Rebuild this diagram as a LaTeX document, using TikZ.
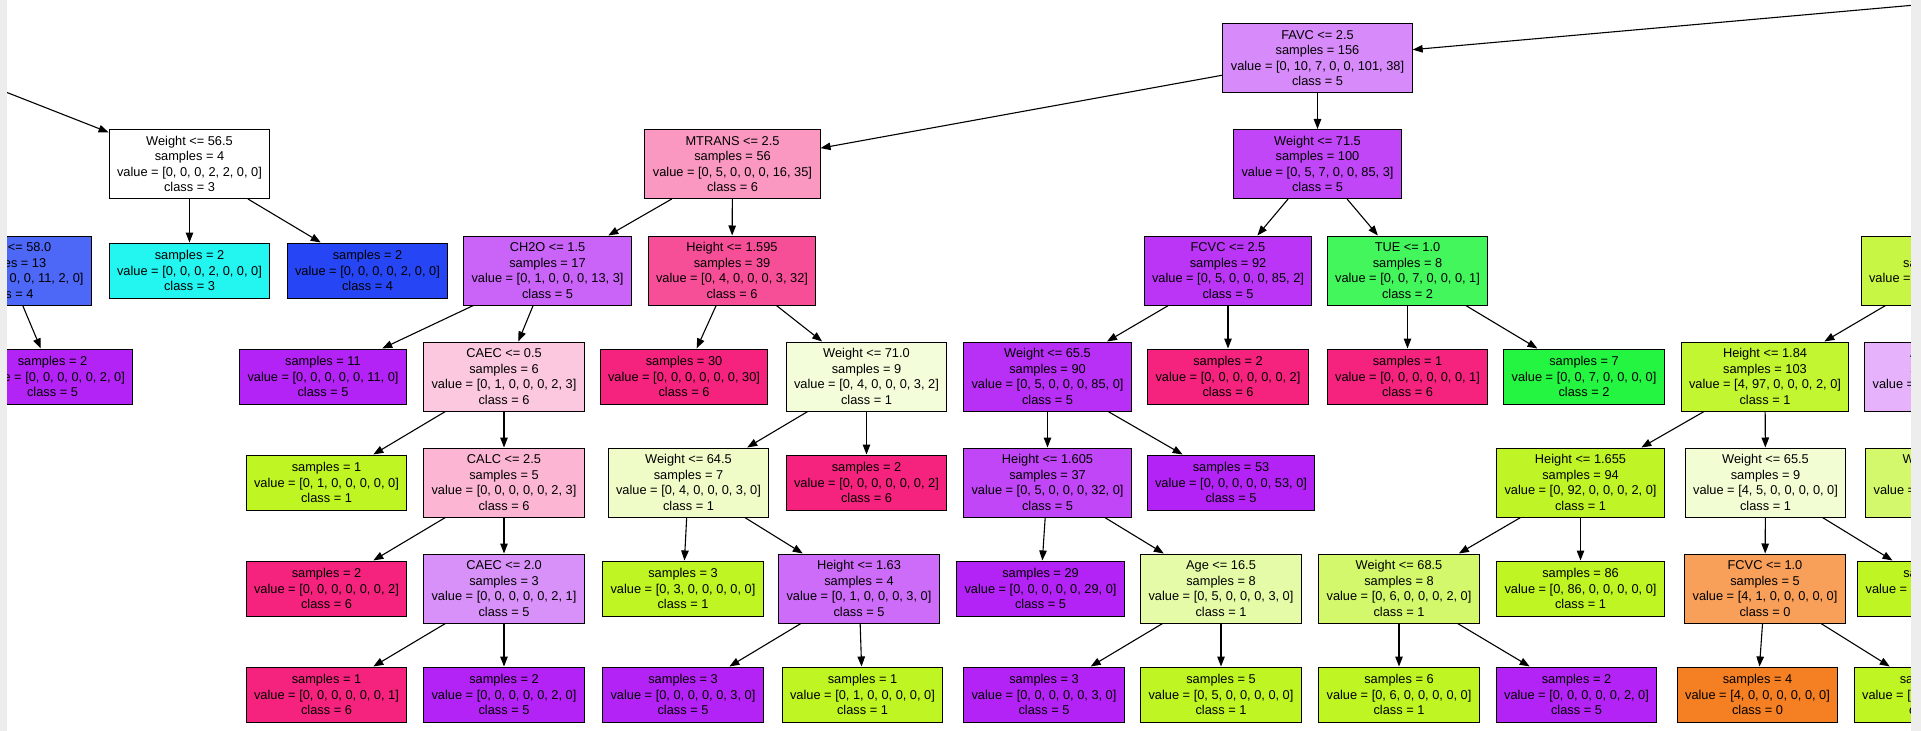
\documentclass[tikz,border=0pt]{standalone}
\usepackage{fontspec}
\setmainfont{Liberation Sans}
\usetikzlibrary{arrows.meta}
\definecolor{cls0}{HTML}{F57F23}
\definecolor{cls1}{HTML}{BEF523}
\definecolor{cls2}{HTML}{23F541}
\definecolor{cls3}{HTML}{23F5F0}
\definecolor{cls4}{HTML}{2646F5}
\definecolor{cls5}{HTML}{B423F5}
\definecolor{cls6}{HTML}{F5237D}
\begin{document}
\begin{tikzpicture}[x=1bp,y=-1bp,
  font=\fontsize{12.85}{15.65}\selectfont,
  split/.style={draw=black,line width=1bp,align=center,inner xsep=8bp,inner ysep=2bp,minimum height=69bp},
  leaf/.style={split,minimum height=55bp},
  branch/.style={line width=1.1bp,-{Triangle[length=10bp,width=7.5bp]}}]
  \useasboundingbox (0,0) rectangle (1921,731);
  \begin{scope}
  \clip (7,0) rectangle (1911,731);
  \coordinate (root) at (2512,-48);
  \coordinate (lpar) at (-81,58);
  % level 1 and 2
  \node[split,fill=cls5!53] (favc) at (1317.5,58) {FAVC <= 2.5\\samples = 156\\value = [0, 10, 7, 0, 0, 101, 38]\\class = 5};
  \node[split,fill=white] (w565) at (189.5,164) {Weight <= 56.5\\samples = 4\\value = [0, 0, 0, 2, 2, 0, 0]\\class = 3};
  \node[split,fill=cls6!47] (mtrans) at (732.5,164) {MTRANS <= 2.5\\samples = 56\\value = [0, 5, 0, 0, 0, 16, 35]\\class = 6};
  \node[split,fill=cls5!84] (w715) at (1317.5,164) {Weight <= 71.5\\samples = 100\\value = [0, 5, 7, 0, 0, 85, 3]\\class = 5};
  % level 3
  \node[split,fill=cls4!82] (w580) at (8,270.5) {Weight <= 58.0\\samples = 13\\value = [0, 0, 0, 0, 11, 2, 0]\\class = 4};
  \node[leaf,fill=cls3] (lfa) at (189.5,270.5) {samples = 2\\value = [0, 0, 0, 2, 0, 0, 0]\\class = 3};
  \node[leaf,fill=cls4] (lfb) at (367.5,270.5) {samples = 2\\value = [0, 0, 0, 0, 2, 0, 0]\\class = 4};
  \node[split,fill=cls5!71] (ch2o) at (547.5,270.5) {CH2O <= 1.5\\samples = 17\\value = [0, 1, 0, 0, 0, 13, 3]\\class = 5};
  \node[split,fill=cls6!80] (h1595) at (732,270.5) {Height <= 1.595\\samples = 39\\value = [0, 4, 0, 0, 0, 3, 32]\\class = 6};
  \node[split,fill=cls5!92] (fcvca) at (1228,270.5) {FCVC <= 2.5\\samples = 92\\value = [0, 5, 0, 0, 0, 85, 2]\\class = 5};
  \node[split,fill=cls2!86] (tue) at (1407.5,270.5) {TUE <= 1.0\\samples = 8\\value = [0, 0, 7, 0, 0, 0, 1]\\class = 2};
  \node[split,fill=cls1!85] (rtop) at (1945,270.5) {FAF <= 1.5\\samples = 109\\value = [4, 98, 0, 0, 0, 7, 0]\\class = 1};
  % level 4
  \node[leaf,fill=cls5] (lfc) at (52.5,376.5) {samples = 2\\value = [0, 0, 0, 0, 0, 2, 0]\\class = 5};
  \node[leaf,fill=cls5] (lfd) at (323,376.5) {samples = 11\\value = [0, 0, 0, 0, 0, 11, 0]\\class = 5};
  \node[split,fill=cls6!25] (caeca) at (504,376.5) {CAEC <= 0.5\\samples = 6\\value = [0, 1, 0, 0, 0, 2, 3]\\class = 6};
  \node[leaf,fill=cls6] (lfe) at (684,376.5) {samples = 30\\value = [0, 0, 0, 0, 0, 0, 30]\\class = 6};
  \node[split,fill=cls1!17] (w710) at (866.5,376.5) {Weight <= 71.0\\samples = 9\\value = [0, 4, 0, 0, 0, 3, 2]\\class = 1};
  \node[split,fill=cls5!94] (w655a) at (1047.5,376.5) {Weight <= 65.5\\samples = 90\\value = [0, 5, 0, 0, 0, 85, 0]\\class = 5};
  \node[leaf,fill=cls6] (lff) at (1228,376.5) {samples = 2\\value = [0, 0, 0, 0, 0, 0, 2]\\class = 6};
  \node[leaf,fill=cls6] (lfg) at (1407.5,376.5) {samples = 1\\value = [0, 0, 0, 0, 0, 0, 1]\\class = 6};
  \node[leaf,fill=cls2] (lfh) at (1584,376.5) {samples = 7\\value = [0, 0, 7, 0, 0, 0, 0]\\class = 2};
  \node[split,fill=cls1!94] (h184) at (1765,376.5) {Height <= 1.84\\samples = 103\\value = [4, 97, 0, 0, 0, 2, 0]\\class = 1};
  \node[split,fill=cls5!35] (rmid) at (1945,376.5) {Age <= 21.5\\samples = 6\\value = [0, 2, 0, 0, 0, 4, 0]\\class = 5};
  % level 5
  \node[leaf,fill=cls1] (lfi) at (326.5,482.5) {samples = 1\\value = [0, 1, 0, 0, 0, 0, 0]\\class = 1};
  \node[split,fill=cls6!33] (calc) at (504,482.5) {CALC <= 2.5\\samples = 5\\value = [0, 0, 0, 0, 0, 2, 3]\\class = 6};
  \node[split,fill=cls1!25] (w645) at (688.5,482.5) {Weight <= 64.5\\samples = 7\\value = [0, 4, 0, 0, 0, 3, 0]\\class = 1};
  \node[leaf,fill=cls6] (lfj) at (866.5,482.5) {samples = 2\\value = [0, 0, 0, 0, 0, 0, 2]\\class = 6};
  \node[split,fill=cls5!84] (h1605) at (1047.5,482.5) {Height <= 1.605\\samples = 37\\value = [0, 5, 0, 0, 0, 32, 0]\\class = 5};
  \node[leaf,fill=cls5] (lfk) at (1231,482.5) {samples = 53\\value = [0, 0, 0, 0, 0, 53, 0]\\class = 5};
  \node[split,fill=cls1!98] (h1655) at (1580.5,482.5) {Height <= 1.655\\samples = 94\\value = [0, 92, 0, 0, 0, 2, 0]\\class = 1};
  \node[split,fill=cls1!20] (w655b) at (1765.5,482.5) {Weight <= 65.5\\samples = 9\\value = [4, 5, 0, 0, 0, 0, 0]\\class = 1};
  \node[split,fill=cls1!67] (rlow) at (1946,482.5) {Weight <= 97.5\\samples = 3\\value = [0, 2, 0, 0, 0, 1, 0]\\class = 1};
  % level 6
  \node[leaf,fill=cls6] (lfl) at (326.5,588.5) {samples = 2\\value = [0, 0, 0, 0, 0, 0, 2]\\class = 6};
  \node[split,fill=cls5!50] (caecb) at (504,588.5) {CAEC <= 2.0\\samples = 3\\value = [0, 0, 0, 0, 0, 2, 1]\\class = 5};
  \node[leaf,fill=cls1] (lfm) at (683,588.5) {samples = 3\\value = [0, 3, 0, 0, 0, 0, 0]\\class = 1};
  \node[split,fill=cls5!67] (h163) at (859,588.5) {Height <= 1.63\\samples = 4\\value = [0, 1, 0, 0, 0, 3, 0]\\class = 5};
  \node[leaf,fill=cls5] (lfn) at (1040.5,588.5) {samples = 29\\value = [0, 0, 0, 0, 0, 29, 0]\\class = 5};
  \node[split,fill=cls1!40] (age) at (1221,588.5) {Age <= 16.5\\samples = 8\\value = [0, 5, 0, 0, 0, 3, 0]\\class = 1};
  \node[split,fill=cls1!67] (w685) at (1399,588.5) {Weight <= 68.5\\samples = 8\\value = [0, 6, 0, 0, 0, 2, 0]\\class = 1};
  \node[leaf,fill=cls1] (lfo) at (1580.5,588.5) {samples = 86\\value = [0, 86, 0, 0, 0, 0, 0]\\class = 1};
  \node[split,fill=cls0!75] (fcvcb) at (1765,588.5) {FCVC <= 1.0\\samples = 5\\value = [4, 1, 0, 0, 0, 0, 0]\\class = 0};
  \node[leaf,fill=cls1] (lfp) at (1938,588.5) {samples = 4\\value = [0, 4, 0, 0, 0, 0, 0]\\class = 1};
  % level 7
  \node[leaf,fill=cls6] (lfq) at (326.5,694.5) {samples = 1\\value = [0, 0, 0, 0, 0, 0, 1]\\class = 6};
  \node[leaf,fill=cls5] (lfr) at (504,694.5) {samples = 2\\value = [0, 0, 0, 0, 0, 2, 0]\\class = 5};
  \node[leaf,fill=cls5] (lfs) at (683,694.5) {samples = 3\\value = [0, 0, 0, 0, 0, 3, 0]\\class = 5};
  \node[leaf,fill=cls1] (lft) at (862.5,694.5) {samples = 1\\value = [0, 1, 0, 0, 0, 0, 0]\\class = 1};
  \node[leaf,fill=cls5] (lfu) at (1044,694.5) {samples = 3\\value = [0, 0, 0, 0, 0, 3, 0]\\class = 5};
  \node[leaf,fill=cls1] (lfv) at (1221,694.5) {samples = 5\\value = [0, 5, 0, 0, 0, 0, 0]\\class = 1};
  \node[leaf,fill=cls1] (lfw) at (1399,694.5) {samples = 6\\value = [0, 6, 0, 0, 0, 0, 0]\\class = 1};
  \node[leaf,fill=cls5] (lfx) at (1576.5,694.5) {samples = 2\\value = [0, 0, 0, 0, 0, 2, 0]\\class = 5};
  \node[leaf,fill=cls0] (lfy) at (1757.5,694.5) {samples = 4\\value = [4, 0, 0, 0, 0, 0, 0]\\class = 0};
  \node[leaf,fill=cls1] (lfz) at (1934.5,694.5) {samples = 1\\value = [0, 1, 0, 0, 0, 0, 0]\\class = 1};
  \foreach \a/\b in {root/favc,lpar/w565,favc/mtrans,favc/w715,w565/lfa,w565/lfb,
      mtrans/ch2o,mtrans/h1595,w715/fcvca,w715/tue,w580/lfc,ch2o/lfd,ch2o/caeca,
      h1595/lfe,h1595/w710,fcvca/w655a,fcvca/lff,tue/lfg,tue/lfh,rtop/h184,rtop/rmid,
      caeca/lfi,caeca/calc,w710/w645,w710/lfj,w655a/h1605,w655a/lfk,h184/h1655,h184/w655b,
      rmid/rlow,calc/lfl,calc/caecb,w645/lfm,w645/h163,h1605/lfn,h1605/age,h1655/w685,
      h1655/lfo,w655b/fcvcb,w655b/lfp,caecb/lfq,caecb/lfr,h163/lfs,h163/lft,age/lfu,
      age/lfv,w685/lfw,w685/lfx,fcvcb/lfy,fcvcb/lfz}
    \draw[branch] (\a) -- (\b);
  \end{scope}
  \fill[black!7] (0,0) rectangle (7,731);
  \fill[black!7] (1911,0) rectangle (1921,731);
\end{tikzpicture}
\end{document}
